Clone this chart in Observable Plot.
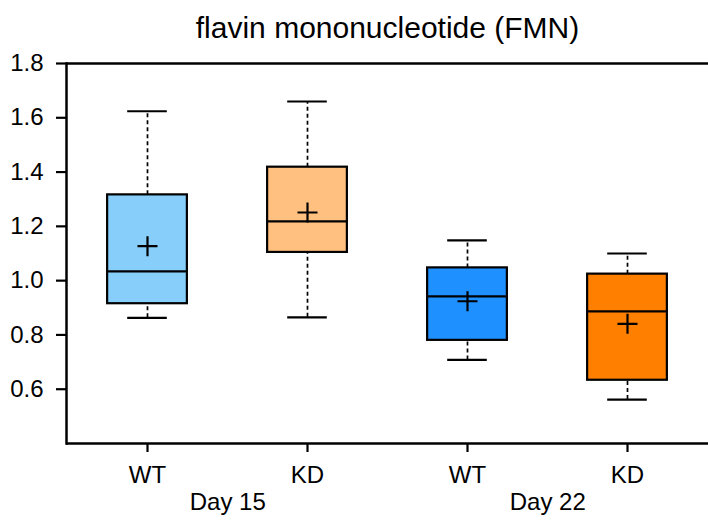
<!DOCTYPE html>
<html>
<head>
<meta charset="utf-8">
<script src="https://cdn.jsdelivr.net/npm/d3@7"></script>
<script src="https://cdn.jsdelivr.net/npm/@observablehq/plot@0.6"></script>
<style>
  html, body { margin: 0; padding: 0; background: #fff; }
  #chart svg { font-family: "Liberation Sans", Arial, sans-serif; }
</style>
</head>
<body>
<div id="chart"></div>
<script>
const title = "flavin mononucleotide (FMN)";
const days = ["Day 15", "Day 15", "Day 22", "Day 22"];
const genotypes = ["WT", "KD", "WT", "KD"];
const lowerWhisker = [0.863, 0.865, 0.708, 0.562];
const q1 = [0.915, 1.104, 0.780, 0.633];
const median = [1.034, 1.218, 0.942, 0.887];
const q3 = [1.316, 1.418, 1.047, 1.024];
const upperWhisker = [1.624, 1.660, 1.148, 1.100];
const mean = [1.127, 1.251, 0.924, 0.841];
const fills = ["#87CEFA", "#FFC080", "#1E90FF", "#FF8000"];
const yTicks = [0.6, 0.8, 1.0, 1.2, 1.4, 1.6, 1.8];
const dayLabels = ["Day 15", "Day 22"];

const rows = days.map((d, i) => ({
  key: d + " " + genotypes[i],
  genotype: genotypes[i],
  lo: lowerWhisker[i], q1: q1[i], med: median[i], q3: q3[i], hi: upperWhisker[i],
  mean: mean[i], fill: fills[i]
}));
const keys = rows.map(r => r.key);
const dayRows = dayLabels.map(d => ({label: d, key: d + " WT"}));

const W = 708, H = 521, ML = 66, MR = 0;
const step = (W - ML - MR) / keys.length;
const boxInset = step * 0.25, capInset = step * 0.375;

const chart = Plot.plot({
  width: W, height: H,
  marginLeft: ML, marginRight: MR, marginTop: 63, marginBottom: 78,
  style: {fontFamily: '"Liberation Sans", Arial, sans-serif', fontSize: "24px", color: "#000", background: "#fff"},
  x: {domain: keys, padding: 0, label: null},
  y: {domain: [0.4, 1.8], label: null},
  marks: [
    Plot.axisY({ticks: yTicks, tickFormat: d3.format(".1f"), tickSize: 10, tickPadding: 13, fontSize: 24, strokeWidth: 2.2, strokeOpacity: 1, label: null}),
    Plot.axisX({tickFormat: k => rows.find(r => r.key === k).genotype, tickSize: 9, tickPadding: 13, fontSize: 24, strokeWidth: 2.2, strokeOpacity: 1, label: null}),
    Plot.ruleY([0.4, 1.8], {stroke: "#000", strokeWidth: 2.5}),
    Plot.frame({anchor: "left", stroke: "#000", strokeWidth: 2.5}),
    Plot.ruleX(rows, {x: "key", y1: "q3", y2: "hi", stroke: "#000", strokeWidth: 1.7, strokeDasharray: "4,3"}),
    Plot.ruleX(rows, {x: "key", y1: "lo", y2: "q1", stroke: "#000", strokeWidth: 1.7, strokeDasharray: "4,3"}),
    Plot.tickY(rows, {x: "key", y: "hi", stroke: "#000", strokeWidth: 2.2, insetLeft: capInset, insetRight: capInset}),
    Plot.tickY(rows, {x: "key", y: "lo", stroke: "#000", strokeWidth: 2.2, insetLeft: capInset, insetRight: capInset}),
    Plot.barY(rows, {x: "key", y1: "q1", y2: "q3", fill: d => d.fill, stroke: "#000", strokeWidth: 2.2, insetLeft: boxInset, insetRight: boxInset}),
    Plot.tickY(rows, {x: "key", y: "med", stroke: "#000", strokeWidth: 2.2, insetLeft: boxInset, insetRight: boxInset}),
    Plot.dot(rows, {x: "key", y: "mean", symbol: "plus", r: 6.5, stroke: "#000", strokeWidth: 2.2}),
    Plot.text(dayRows, {x: "key", text: "label", frameAnchor: "bottom", lineAnchor: "middle", dx: step / 2, dy: 59, fontSize: 24, fill: "#000"}),
    Plot.text([title], {frameAnchor: "top", lineAnchor: "middle", dy: -35.5, fontSize: 30, fill: "#000"})
  ]
});
document.getElementById("chart").appendChild(chart);
</script>
</body>
</html>
